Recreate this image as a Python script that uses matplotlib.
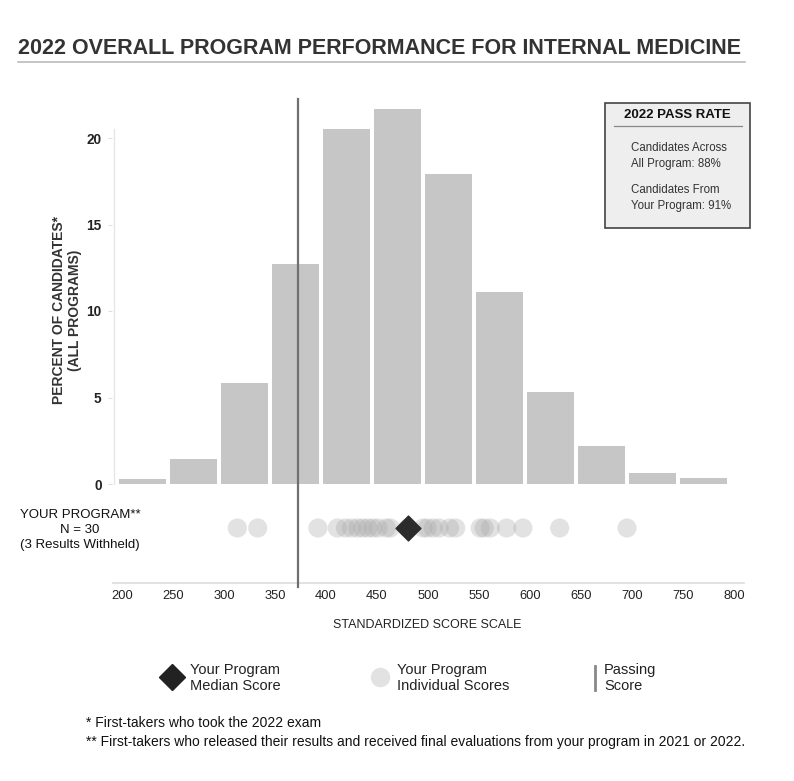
import matplotlib
matplotlib.use("Agg")
import matplotlib.pyplot as plt
import matplotlib.transforms as mtransforms
from matplotlib.patches import Rectangle
from matplotlib.lines import Line2D

plt.rcParams['font.family'] = ['Liberation Sans', 'DejaVu Sans']

# ---- data ----
bin_edges = [200, 250, 300, 350, 400, 450, 500, 550, 600, 650, 700, 750, 800]
percents = [0.3, 1.45, 5.85, 12.7, 20.5, 21.7, 17.9, 11.1, 5.3, 2.2, 0.65, 0.35]
x_ticks = [200, 250, 300, 350, 400, 450, 500, 550, 600, 650, 700, 750, 800]
y_ticks = [0, 5, 10, 15, 20]
individual_scores = [318, 338, 397, 416, 424, 430, 436, 441, 446, 451, 456, 464, 468,
                     485,
                     500, 504, 510, 516, 526, 532, 556, 560, 566, 582, 598, 634, 700]
median_score = 485
passing_score = 377

W, H = 794, 781
fig = plt.figure(figsize=(W / 100, H / 100), dpi=100)

ax_l, ax_r, ax_t, ax_b = 112, 750, 97, 590
ax = fig.add_axes([ax_l / W, 1 - ax_b / H, (ax_r - ax_l) / W, (ax_b - ax_t) / H])
px_per_x = 1.02
px_per_y = 17.3
x0_px, y0_px = 117, 484
ax.set_xlim(200 - (x0_px - ax_l) / px_per_x, 200 + (ax_r - x0_px) / px_per_x)
ax.set_ylim((y0_px - ax_b) / px_per_y, (y0_px - ax_t) / px_per_y)

for s in ax.spines.values():
    s.set_visible(False)

bar_color = '#c6c6c6'
for i, p in enumerate(percents):
    left = bin_edges[i]
    w = bin_edges[i + 1] - bin_edges[i]
    ax.bar(left + 1.5, p, width=w - 3, align='edge', color=bar_color, edgecolor='none', zorder=2)

ax.plot([197.5, 197.5], [0, 20.5], color='#e6e6e6', lw=1, zorder=1)
ax.axhline(-5.7, xmin=0, xmax=0.99, color='#dddddd', lw=1.2, zorder=1)

ax.set_yticks(y_ticks)
ax.set_yticklabels([str(v) for v in y_ticks], fontweight='bold', fontsize=9.8, color='#222222')
ax.tick_params(axis='y', length=3, color='#e0e0e0', pad=4.5)
ax.set_xticks(x_ticks)
ax.set_xticklabels([str(v) for v in x_ticks], fontsize=9.3, color='#222222')
ax.tick_params(axis='x', length=0, pad=0)
offset = mtransforms.ScaledTranslation(5 / 100, 0, fig.dpi_scale_trans)
for lab in ax.get_xticklabels():
    lab.set_transform(lab.get_transform() + offset)

dot_y = (y0_px - 528) / px_per_y
ax.scatter(individual_scores, [dot_y] * len(individual_scores), s=190,
           color='#aaaaaa', alpha=0.34, edgecolors='none', zorder=3)
ax.scatter([median_score], [dot_y], marker='D', s=160, color='#2b2b2b', zorder=5)

ax.plot([passing_score, passing_score], [(y0_px - 587) / px_per_y, (y0_px - 99) / px_per_y],
        color='#707070', lw=1.6, zorder=4)

fig.text(18 / W, 1 - 49 / H, '2022 OVERALL PROGRAM PERFORMANCE FOR INTERNAL MEDICINE',
         fontsize=15.5, fontweight='bold', color='#333333', va='center', ha='left')
fig.add_artist(Line2D([18 / W, 745 / W], [1 - 62 / H, 1 - 62 / H], color='#bbbbbb', lw=1.2))

fig.text(67 / W, 1 - 310 / H, 'PERCENT OF CANDIDATES*\n(ALL PROGRAMS)', rotation=90,
         fontsize=10, fontweight='bold', color='#333333', ha='center', va='center',
         linespacing=1.1)

fig.text(80 / W, 1 - 530 / H, 'YOUR PROGRAM**\nN = 30\n(3 Results Withheld)',
         fontsize=9.5, color='#111111', ha='center', va='center', linespacing=1.3)

fig.text(427 / W, 1 - 625 / H, 'STANDARDIZED SCORE SCALE', fontsize=9,
         color='#222222', ha='center', va='center')

bx_l, bx_r, bx_t, bx_b = 605, 750, 103, 228
fig.add_artist(Rectangle((bx_l / W, 1 - bx_b / H), (bx_r - bx_l) / W, (bx_b - bx_t) / H,
                         transform=fig.transFigure, facecolor='#eeeeee',
                         edgecolor='#444444', lw=1.2))
fig.text(677 / W, 1 - 115 / H, '2022 PASS RATE', fontsize=9.5, fontweight='bold',
         color='#111111', ha='center', va='center')
fig.add_artist(Line2D([614 / W, 742 / W], [1 - 126 / H, 1 - 126 / H], color='#888888', lw=0.9))
fig.text(631 / W, 1 - 156 / H, 'Candidates Across\nAll Program: 88%', fontsize=8.3,
         color='#333333', ha='left', va='center', linespacing=1.45)
fig.text(631 / W, 1 - 198 / H, 'Candidates From\nYour Program: 91%', fontsize=8.3,
         color='#333333', ha='left', va='center', linespacing=1.45)

fig.add_artist(Line2D([172 / W], [1 - 677 / H], marker='D', markersize=13,
                      color='#222222', linestyle='none'))
fig.text(190 / W, 1 - 678 / H, 'Your Program\nMedian Score', fontsize=10.5,
         color='#222222', ha='left', va='center', linespacing=1.2)
fig.add_artist(Line2D([380 / W], [1 - 677 / H], marker='o', markersize=13,
                      color='#e2e2e2', linestyle='none'))
fig.text(397 / W, 1 - 678 / H, 'Your Program\nIndividual Scores', fontsize=10.5,
         color='#222222', ha='left', va='center', linespacing=1.2)
fig.add_artist(Line2D([595 / W, 595 / W], [1 - 666 / H, 1 - 690 / H], color='#888888', lw=2))
fig.text(604 / W, 1 - 678 / H, 'Passing\nScore', fontsize=10.5,
         color='#222222', ha='left', va='center', linespacing=1.2)

fig.text(86 / W, 1 - 723 / H, '* First-takers who took the 2022 exam', fontsize=10,
         color='#111111', ha='left', va='center')
fig.text(86 / W, 1 - 742 / H,
         '** First-takers who released their results and received final evaluations from your program in 2021 or 2022.',
         fontsize=10, color='#111111', ha='left', va='center')

fig.savefig('out.png', dpi=100)
